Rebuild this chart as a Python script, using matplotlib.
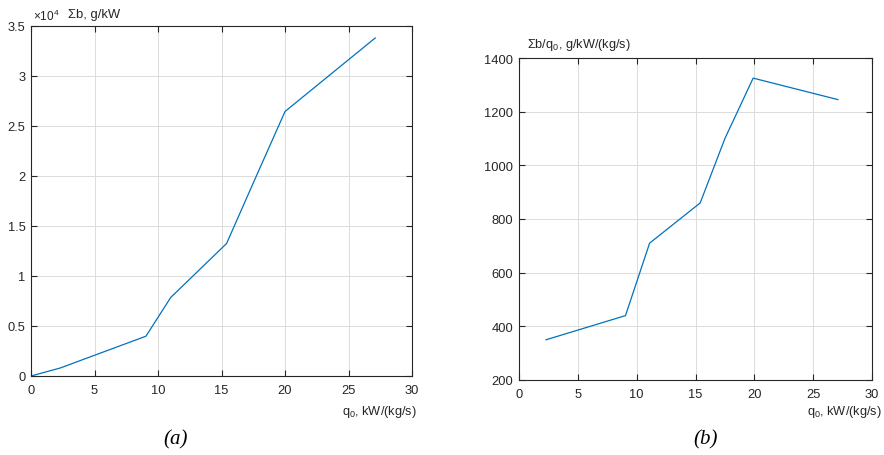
import matplotlib
matplotlib.use("Agg")
import matplotlib.pyplot as plt
from matplotlib.ticker import FuncFormatter

plt.rcParams['font.family'] = ['Liberation Sans', 'DejaVu Sans']
plt.rcParams['mathtext.fontset'] = 'custom'
plt.rcParams['mathtext.rm'] = 'Liberation Sans'
plt.rcParams['mathtext.it'] = 'Liberation Sans:italic'

# (a) total sum vs q0
q0_a = [0, 2.3, 9.05, 11.0, 15.4, 17.5, 20.0, 27.1]
sum_b = [0, 800, 3980, 7850, 13250, 19300, 26450, 33800]

# (b) sum per q0
q0_b = [2.3, 9.05, 11.1, 15.4, 17.5, 19.9, 27.1]
sum_b_per_q0 = [350, 440, 710, 860, 1100, 1325, 1245]

W, H = 884, 456
txt = '#262626'
line_c = '#0072BD'

fig = plt.figure(figsize=(W / 100, H / 100), dpi=100)


def px_axes(l, t, r, b):
    return fig.add_axes([l / W, 1 - b / H, (r - l) / W, (b - t) / H])


def style(ax):
    ax.set_xlim(0, 30)
    ax.set_xticks(range(0, 31, 5))
    ax.grid(True, color='#dcdcdc', linewidth=0.7)
    ax.set_axisbelow(True)
    ax.tick_params(direction='in', length=4, width=0.8, top=True, right=True,
                   labelsize=9.3, colors=txt)
    ax.tick_params(axis='x', pad=6)
    ax.tick_params(axis='y', pad=4)
    for s in ax.spines.values():
        s.set_color(txt)
        s.set_linewidth(0.8)


ax1 = px_axes(31, 27, 412, 377)
ax1.plot(q0_a, sum_b, color=line_c, linewidth=0.9)
style(ax1)
ax1.set_ylim(0, 35000)
ax1.set_yticks(range(0, 35001, 5000))
ax1.yaxis.set_major_formatter(FuncFormatter(lambda v, p: f"{v / 1e4:g}"))

ax2 = px_axes(519, 59, 872, 381)
ax2.plot(q0_b, sum_b_per_q0, color=line_c, linewidth=0.9)
style(ax2)
ax2.set_ylim(200, 1400)
ax2.set_yticks(range(200, 1401, 200))

# axis labels placed like MATLAB output
fig.text(33 / W, 1 - 16 / H, r'$\times\mathregular{10^{4}}$', fontsize=8.5, color=txt, va='center')
fig.text(68 / W, 1 - 15 / H, 'Σb, g/kW', fontsize=9.4, color=txt, va='center')
fig.text(527 / W, 1 - 45 / H, r'Σb/q$_\mathregular{0}$, g/kW/(kg/s)', fontsize=9.2, color=txt, va='center')
fig.text(417 / W, 1 - 412 / H, r'q$_\mathregular{0}$, kW/(kg/s)', fontsize=9.2, color=txt,
         ha='right', va='center')
fig.text(882 / W, 1 - 412 / H, r'q$_\mathregular{0}$, kW/(kg/s)', fontsize=9.2, color=txt,
         ha='right', va='center')

# captions
fig.text(176 / W, 1 - 440 / H, '(a)', fontsize=15, style='italic',
         family='Liberation Serif', ha='center', va='center')
fig.text(706 / W, 1 - 440 / H, '(b)', fontsize=15, style='italic',
         family='Liberation Serif', ha='center', va='center')

fig.savefig('out.png', dpi=100)
